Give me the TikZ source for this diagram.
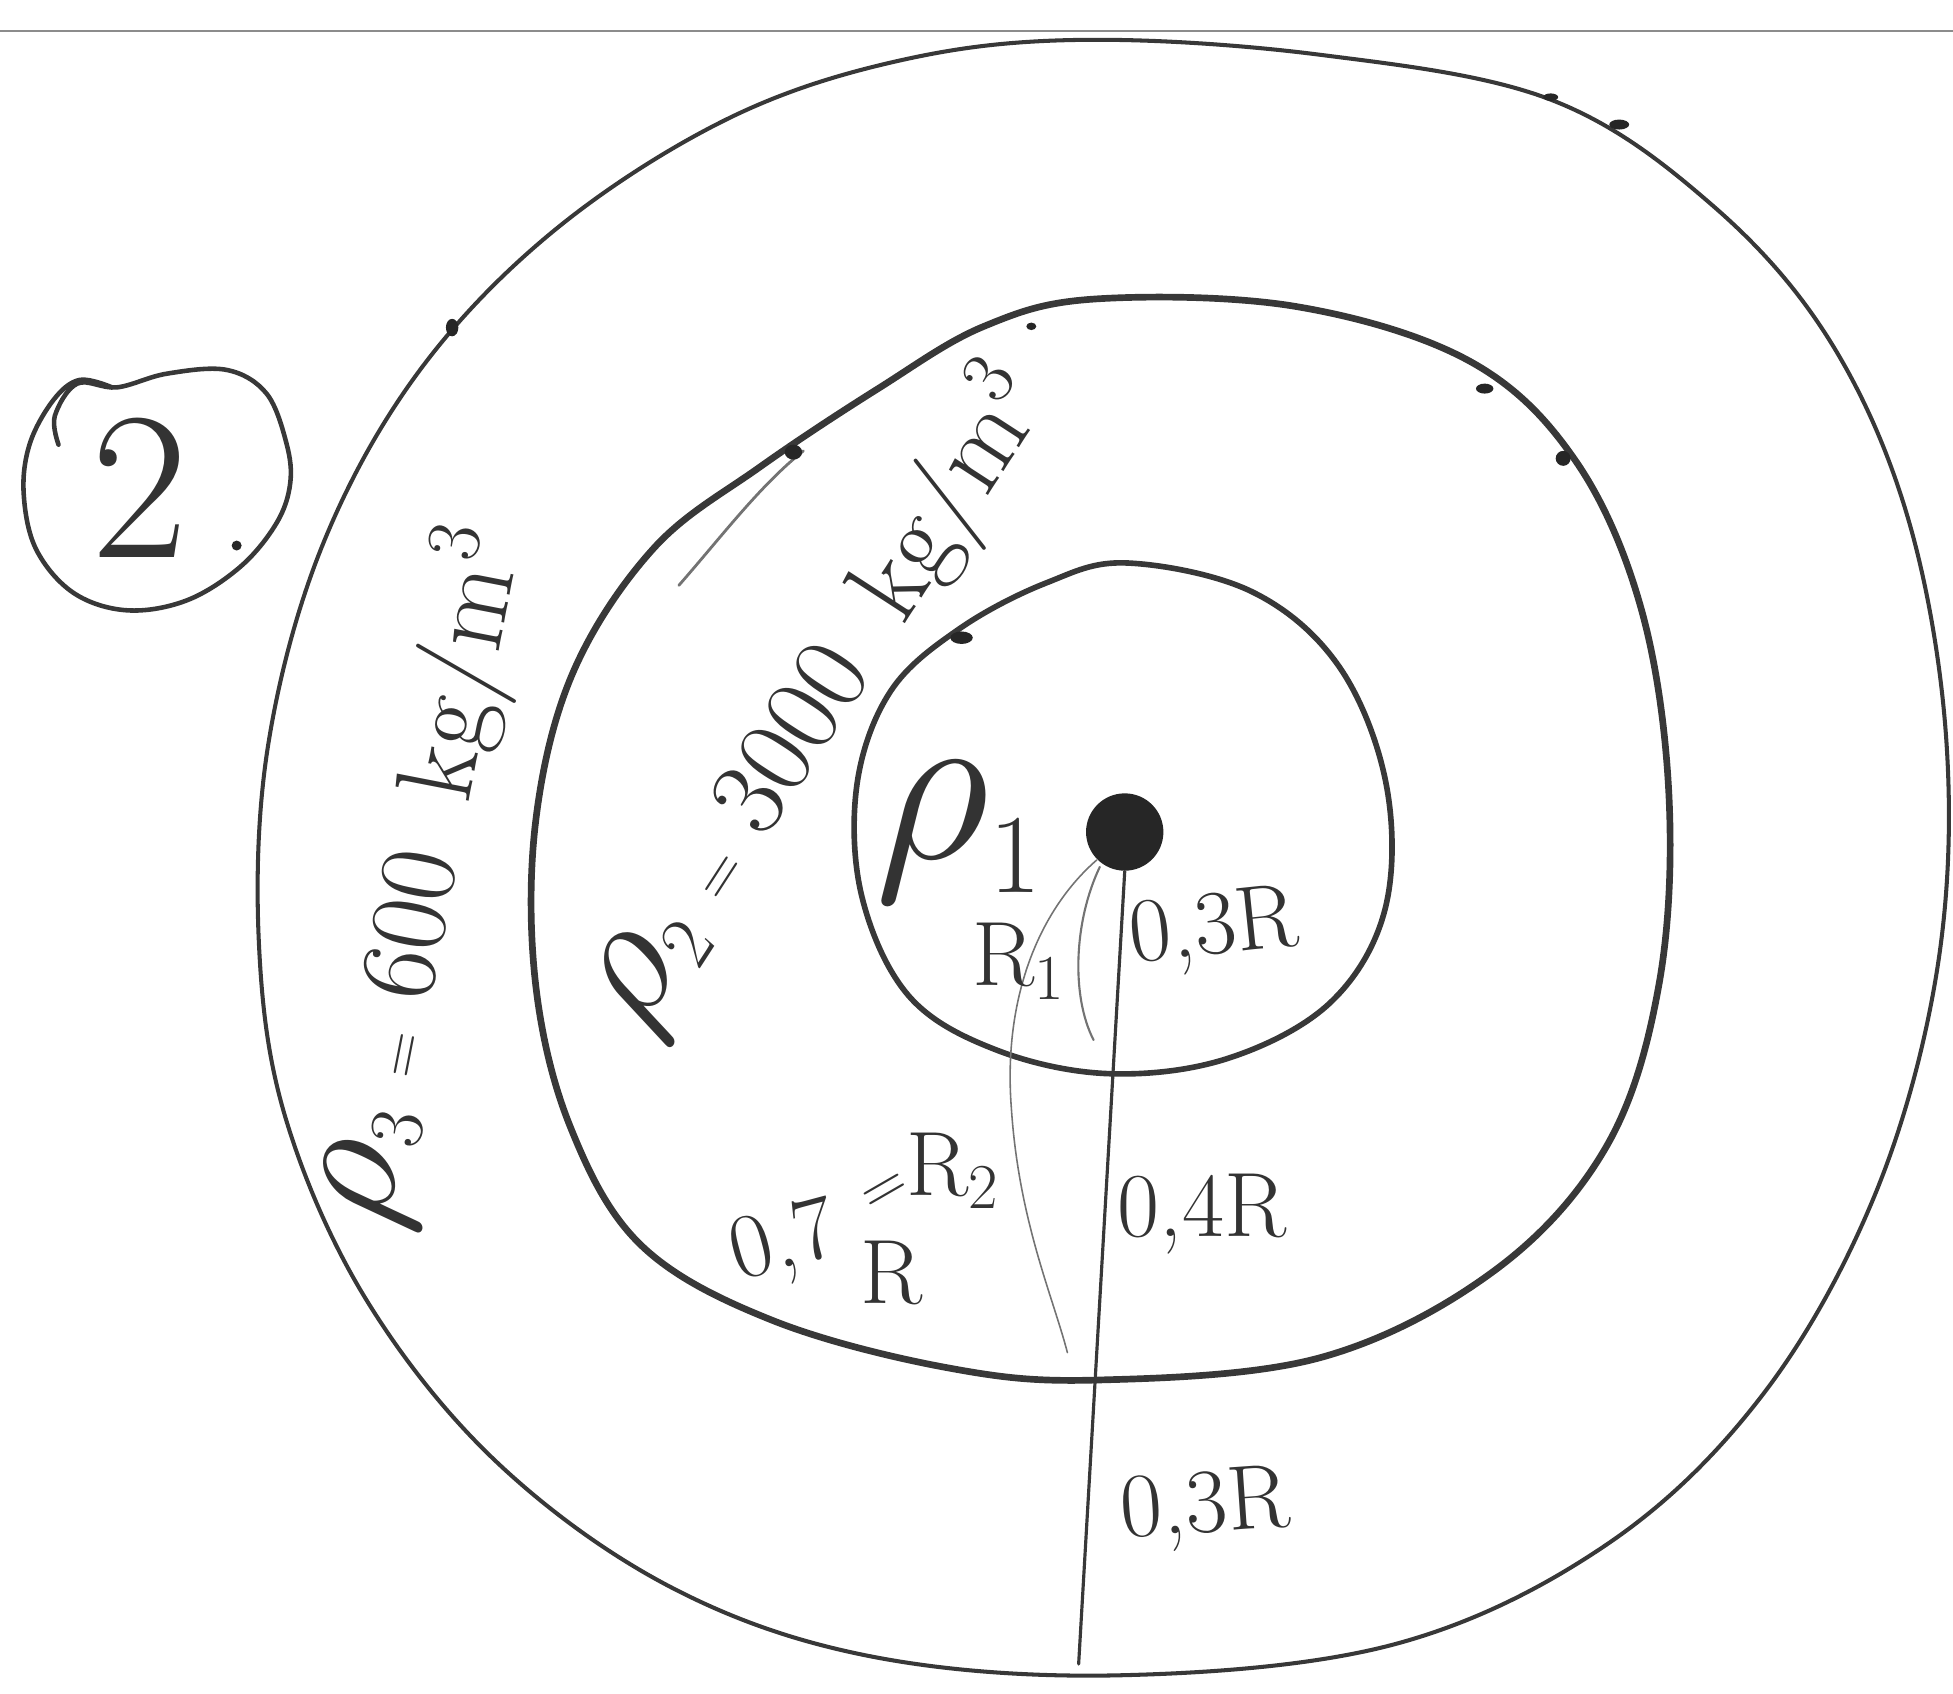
\RequirePackage{fix-cm}
\documentclass[tikz,border=0pt]{standalone}
\usetikzlibrary{calc}
\begin{document}
\begin{tikzpicture}[x=0.012455cm, y=-0.012455cm,
  ink/.style={draw=black!78, line cap=round, line join=round},
  outerline/.style={ink, line width=1.15pt},
  midline/.style={ink, line width=1.9pt},
  innerline/.style={ink, line width=1.6pt},
  radline/.style={ink, line width=0.9pt},
  hairline/.style={ink, draw=black!55, line width=0.45pt},
  lbl/.style={inner sep=0pt, text=black!80, font=\fontsize{26}{30}\selectfont},
  biglbl/.style={inner sep=0pt, text=black!80, font=\fontsize{31}{36}\selectfont},
  blob/.style={fill=black!85, draw=none}]
\useasboundingbox (0,0) rectangle (1568,1359.3);
% top rule
\draw[draw=black!45, line width=0.7pt] (0,25) -- (1568,25);
% outer circle
\draw[outerline] plot[smooth cycle, tension=0.6] coordinates {
 (870,32) (1060,44) (1245,80) (1375,165) (1470,275) (1533,420) (1563,600)
 (1555,780) (1505,960) (1415,1120) (1290,1240) (1120,1320) (900,1345)
 (700,1330) (540,1275) (400,1175) (295,1045) (230,900) (208,760) (215,600)
 (258,440) (335,300) (445,185) (585,95) (725,48)};
% middle circle
\draw[midline] plot[smooth cycle, tension=0.6] coordinates {
 (880,240) (1040,246) (1180,290) (1265,370) (1318,490) (1340,640) (1332,790)
 (1290,920) (1200,1020) (1060,1090) (880,1108) (760,1098) (620,1060)
 (515,1000) (458,905) (430,790) (430,660) (460,540) (525,440) (610,375)
 (705,312) (790,262)};
% extra pen stroke at middle circle, upper left
\draw[hairline, line width=0.8pt] (545,470) .. controls (580,430) and (610,390) .. (645,362);
% inner circle
\draw[innerline] plot[smooth cycle, tension=0.6] coordinates {
 (905,452) (1005,475) (1075,535) (1113,630) (1112,730) (1068,805) (985,850)
 (890,862) (800,843) (730,800) (692,720) (688,630) (715,555) (770,505) (840,468)};
% ink blots
\fill[blob] (363,263) ellipse [x radius=5, y radius=7];
\fill[blob] (637,363) ellipse [x radius=7, y radius=6];
\fill[blob] (772,512) ellipse [x radius=9, y radius=5];
\fill[blob] (1245,78) ellipse [x radius=6, y radius=3];
\fill[blob] (1300,100) ellipse [x radius=8, y radius=4];
\fill[blob] (1192,312) ellipse [x radius=7, y radius=4];
\fill[blob] (1255,368) ellipse [x radius=6, y radius=6];
\fill[blob] (828,262) ellipse [x radius=4, y radius=3];
% circled "2."
\draw[ink, line width=1.3pt] plot[smooth, tension=0.6] coordinates {
 (47,357) (44,334) (62,308) (94,311) (134,300) (182,297) (214,316) (230,356)
 (233,388) (222,420) (193,455) (150,482) (102,490) (59,476) (29,441) (19,396)
 (24,356) (43,321) (64,305) (90,311)};
\node[inner sep=0pt, text=black!80, font=\fontsize{60}{60}\selectfont] (two) at (112,392) {2};
\fill[blob] (190,438) circle [radius=4];
% centre and radius lines
\node[circle, fill=black!85, inner sep=0pt, minimum size=22] (c) at (903,668) {};
\coordinate (bot) at (866,1336);
\draw[radline] (c.south) -- (bot);
\coordinate (r2end) at (857,1086);
\draw[hairline] (c.south west) .. controls (835,730) and (805,800) .. (812,890)
  .. controls (818,980) and (845,1040) .. (r2end);
\coordinate (a1) at (883,696);
\coordinate (a2) at (878,835);
\draw[hairline, line width=0.6pt] (a1) .. controls (862,740) and (860,800) .. (a2);
% labels
\node[lbl] (l03a) at (975,748) [rotate=6] {0,3R};
\node[lbl] (lR1) at (818,772) {R$_1$};
\node[lbl] (l04) at (965,975) {0,4R};
\node[lbl] (l03b) at (968,1212) [rotate=4] {0,3R};
\node[lbl] (l07) at (630,1000) [rotate=15] {0,7};
\node[lbl] (l07R) at (716,1022) {R};
\node[inner sep=0pt, text=black!80, font=\fontsize{18}{18}\selectfont] (leq) at (712,958) [rotate=30] {=};
\node[lbl] (lR2) at (765,940) {R$_2$};
\node[inner sep=0pt, text=black!80, font=\fontsize{64}{64}\selectfont] (rho1) at (770,668) {$\rho_{\scriptscriptstyle 1}$};
\node[biglbl, rotate=57] (rho2) at (660,562)
  {{\fontsize{48}{48}\selectfont$\rho$}$_2${\fontsize{18}{18}\selectfont\enspace=\enspace}3000\enspace kg/m$^3$};
\node[biglbl, rotate=79] (rho3) at (342,705)
  {{\fontsize{48}{48}\selectfont$\rho$}$_3${\fontsize{18}{18}\selectfont\enspace=\enspace}600\enspace kg/m$^3$};
\end{tikzpicture}
\end{document}
